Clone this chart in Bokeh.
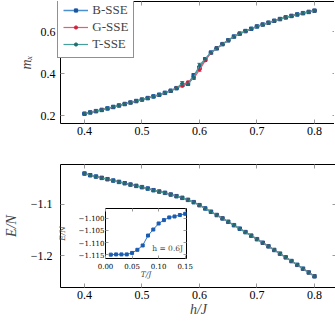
from bokeh.plotting import figure
from bokeh.layouts import column
from bokeh.models import (ColumnDataSource, Whisker, TeeHead, LinearAxis, FixedTicker,
                          CustomJSTickFormatter, Range1d, Legend, LegendItem, Label)
from bokeh.embed import file_html
from bokeh.resources import INLINE

# ---------------- data ----------------
h = [0.40, 0.41, 0.42, 0.43, 0.44, 0.45, 0.46, 0.47, 0.48, 0.49,
     0.50, 0.51, 0.52, 0.53, 0.54, 0.55, 0.56, 0.57, 0.58, 0.59,
     0.60, 0.61, 0.62, 0.63, 0.64, 0.65, 0.66, 0.67, 0.68, 0.69,
     0.70, 0.71, 0.72, 0.73, 0.74, 0.75, 0.76, 0.77, 0.78, 0.79, 0.80]

mx_b = [0.210, 0.216, 0.222, 0.228, 0.235, 0.242, 0.249, 0.256, 0.263, 0.270,
        0.277, 0.284, 0.292, 0.300, 0.309, 0.319, 0.331, 0.345, 0.352, 0.392,
        0.428, 0.468, 0.500, 0.520, 0.540, 0.558, 0.576, 0.590, 0.602, 0.613,
        0.624, 0.633, 0.642, 0.651, 0.659, 0.667, 0.674, 0.681, 0.687, 0.693, 0.699]
mx_g = [0.210, 0.216, 0.222, 0.228, 0.235, 0.242, 0.249, 0.256, 0.263, 0.270,
        0.277, 0.284, 0.292, 0.300, 0.309, 0.319, 0.333, 0.342, 0.360, 0.378,
        0.418, 0.462, 0.498, 0.520, 0.540, 0.558, 0.576, 0.590, 0.602, 0.613,
        0.624, 0.633, 0.642, 0.651, 0.659, 0.667, 0.674, 0.681, 0.687, 0.693, 0.699]
mx_t = [0.210, 0.216, 0.222, 0.228, 0.235, 0.242, 0.249, 0.256, 0.263, 0.270,
        0.277, 0.284, 0.292, 0.300, 0.309, 0.319, 0.331, 0.355, 0.350, 0.382,
        0.440, 0.470, 0.500, 0.520, 0.540, 0.558, 0.576, 0.590, 0.602, 0.613,
        0.624, 0.633, 0.642, 0.651, 0.659, 0.667, 0.674, 0.681, 0.687, 0.693, 0.699]
err_b = [0.001] * 17 + [0.003, 0.004, 0.008, 0.006, 0.004] + [0.001] * 19
err_g = [0.001] * 17 + [0.003, 0.004, 0.005, 0.006, 0.004] + [0.001] * 19
err_t = [0.001] * 17 + [0.007, 0.004, 0.006, 0.009, 0.005] + [0.001] * 19

energy = [-1.0406, -1.0439, -1.0465, -1.0490, -1.0516, -1.0542, -1.0568, -1.0594, -1.0620, -1.0645,
          -1.0670, -1.0697, -1.0729, -1.0755, -1.0780, -1.0813, -1.0845, -1.0877, -1.0916, -1.0961,
          -1.1019, -1.1082, -1.1146, -1.1210, -1.1275, -1.1341, -1.1407, -1.1474, -1.1541, -1.1609,
          -1.1678, -1.1747, -1.1817, -1.1887, -1.1958, -1.2030, -1.2102, -1.2175, -1.2249, -1.2323, -1.2398]

inset_T = [0.01, 0.02, 0.03, 0.04, 0.05, 0.06, 0.07, 0.08, 0.09, 0.10, 0.11, 0.12, 0.13, 0.14, 0.15]
inset_E = [-1.1150, -1.1149, -1.1149, -1.1149, -1.1143, -1.1130, -1.1112, -1.1071, -1.1046,
           -1.1021, -1.1007, -1.0996, -1.0992, -1.0986, -1.0981]

series_names = ["B-SSE", "G-SSE", "T-SSE"]
h_ticks = [0.4, 0.5, 0.6, 0.7, 0.8]
mx_ticks = [0.2, 0.4, 0.6]
e_ticks = [-1.2, -1.1]
inset_T_ticks = [0.0, 0.05, 0.10, 0.15]
inset_E_ticks = [-1.115, -1.110, -1.105, -1.100]
inset_note = "h = 0.6J"
inset_note_at = (0.146, -1.1124)

# ---------------- style ----------------
SERIF = "Liberation Serif"
ISERIF = "DejaVu Serif"
TICKC = "#9a9a9a"
styles = [
    dict(line="#4a8fd0", mark="#1a55a0", marker="square", size=3.5, lw=1.5),
    dict(line="#e45d75", mark="#d01f3c", marker="circle", size=2.5, lw=1.2),
    dict(line="#45a09c", mark="#1d6c70", marker="circle", size=2.5, lw=1.2),
]


def fmt(n):
    return CustomJSTickFormatter(
        code="return (tick < -1e-9 ? '\u2212' : '') + Math.abs(tick).toFixed(%d);" % n)


def dress(p, xt, yt, xd, yd, font, fsize, tlen, xlabel=None, ylabel=None, lsize="14px",
          xstand=3, ystand=5, xls=0, yls=6):
    for ax in p.xaxis:
        ax.ticker = FixedTicker(ticks=xt)
        ax.formatter = fmt(xd)
        ax.major_label_standoff = xstand
        if xlabel:
            ax.axis_label = xlabel
            ax.axis_label_standoff = xls
    for ax in p.yaxis:
        ax.ticker = FixedTicker(ticks=yt)
        ax.formatter = fmt(yd)
        ax.major_label_standoff = ystand
        if ylabel:
            ax.axis_label = ylabel
            ax.axis_label_standoff = yls
    p.add_layout(LinearAxis(ticker=FixedTicker(ticks=yt)), "right")
    p.add_layout(LinearAxis(ticker=FixedTicker(ticks=xt)), "above")
    for ax in p.axis:
        ax.axis_line_color = None
        ax.major_tick_in = tlen
        ax.major_tick_out = 0
        ax.major_tick_line_color = TICKC
        ax.minor_tick_line_color = None
        ax.major_label_text_font = font
        ax.major_label_text_font_size = fsize
        ax.major_label_text_color = "black"
        ax.axis_label_text_font = font
        ax.axis_label_text_font_style = "italic"
        ax.axis_label_text_font_size = lsize
    for ax in p.right + p.above:
        ax.major_label_text_font_size = "2px"
        ax.major_label_text_color = None
        ax.major_label_standoff = 0
    p.outline_line_color = "black"
    p.outline_line_width = 1
    p.xgrid.visible = False
    p.ygrid.visible = False


# ---------------- top panel ----------------
top = figure(frame_width=276, frame_height=122, min_border_left=56, min_border_right=2,
             min_border_top=1, min_border_bottom=40,
             x_range=Range1d(0.3583, 0.8383), y_range=Range1d(0.1635, 0.7424),
             output_backend="svg", toolbar_location=None)
dress(top, h_ticks, mx_ticks, 1, 1, SERIF, "12px", 4, ylabel="m\u2093", yls=4)

items = []
for name, vals, err, st in zip(series_names, [mx_b, mx_g, mx_t], [err_b, err_g, err_t], styles):
    src = ColumnDataSource(dict(h=h, m=vals,
                                up=[v + e for v, e in zip(vals, err)],
                                lo=[v - e for v, e in zip(vals, err)]))
    wh = Whisker(source=src, base="h", upper="up", lower="lo", line_color=st["mark"],
                 line_width=1,
                 upper_head=TeeHead(size=4, line_color=st["mark"], line_width=1),
                 lower_head=TeeHead(size=4, line_color=st["mark"], line_width=1))
    top.add_layout(wh)
    ln = top.line("h", "m", source=src, line_color=st["line"], line_width=st["lw"])
    sc = top.scatter("h", "m", source=src, marker=st["marker"], size=st["size"],
                     fill_color=st["mark"], line_color=st["mark"])
    items.append(LegendItem(label=name, renderers=[ln, sc]))

leg = Legend(items=items, location=(8, 65), margin=0, padding=5, spacing=1,
             label_text_font=SERIF, label_text_font_size="13px", label_height=14,
             glyph_height=8, glyph_width=25, label_standoff=4,
             border_line_color="#222222", border_line_width=1, background_fill_alpha=1)
top.add_layout(leg)

# ---------------- bottom panel ----------------
bot = figure(frame_width=276, frame_height=123, min_border_left=56, min_border_right=2,
             min_border_top=1, min_border_bottom=35,
             x_range=Range1d(0.3583, 0.8383), y_range=Range1d(-1.2614, -1.0231),
             output_backend="svg", toolbar_location=None)
dress(bot, h_ticks, e_ticks, 1, 1, SERIF, "12px", 4, xlabel="h/J", ylabel="E/N",
      ystand=8, xls=0, yls=9)
for name, st in zip(series_names, styles):
    src = ColumnDataSource(dict(h=h, e=energy))
    bot.line("h", "e", source=src, line_color=st["line"], line_width=st["lw"])
    bot.scatter("h", "e", source=src, marker=st["marker"], size=st["size"],
                fill_color=st["mark"], line_color=st["mark"])

# ---------------- inset ----------------
ins = figure(frame_width=81, frame_height=50, min_border_left=60, min_border_right=12,
             min_border_top=2, min_border_bottom=26,
             x_range=Range1d(0.0, 0.1525), y_range=Range1d(-1.1166, -1.0959),
             output_backend="svg", toolbar_location=None,
             border_fill_alpha=0, background_fill_color="white",
             styles={"position": "absolute", "left": "45px", "top": "206px"})
dress(ins, inset_T_ticks, inset_E_ticks, 2, 3, ISERIF, "7px", 3, xlabel="T/J", ylabel="E/N",
      lsize="7.5px", xstand=4, ystand=1, xls=-2, yls=9)
isrc = ColumnDataSource(dict(T=inset_T, E=inset_E))
ins.line("T", "E", source=isrc, line_color="#2f78c8", line_width=1)
ins.scatter("T", "E", source=isrc, marker="square", size=3, fill_color="#1a5cb0",
            line_color="#1a5cb0")
ins.add_layout(Label(x=inset_note_at[0], y=inset_note_at[1], text=inset_note,
                     text_font=ISERIF, text_font_size="7.5px", text_align="right",
                     text_baseline="middle"))

layout = column(top, bot, ins, spacing=0)
open("out.html", "w").write(file_html(layout, INLINE))
